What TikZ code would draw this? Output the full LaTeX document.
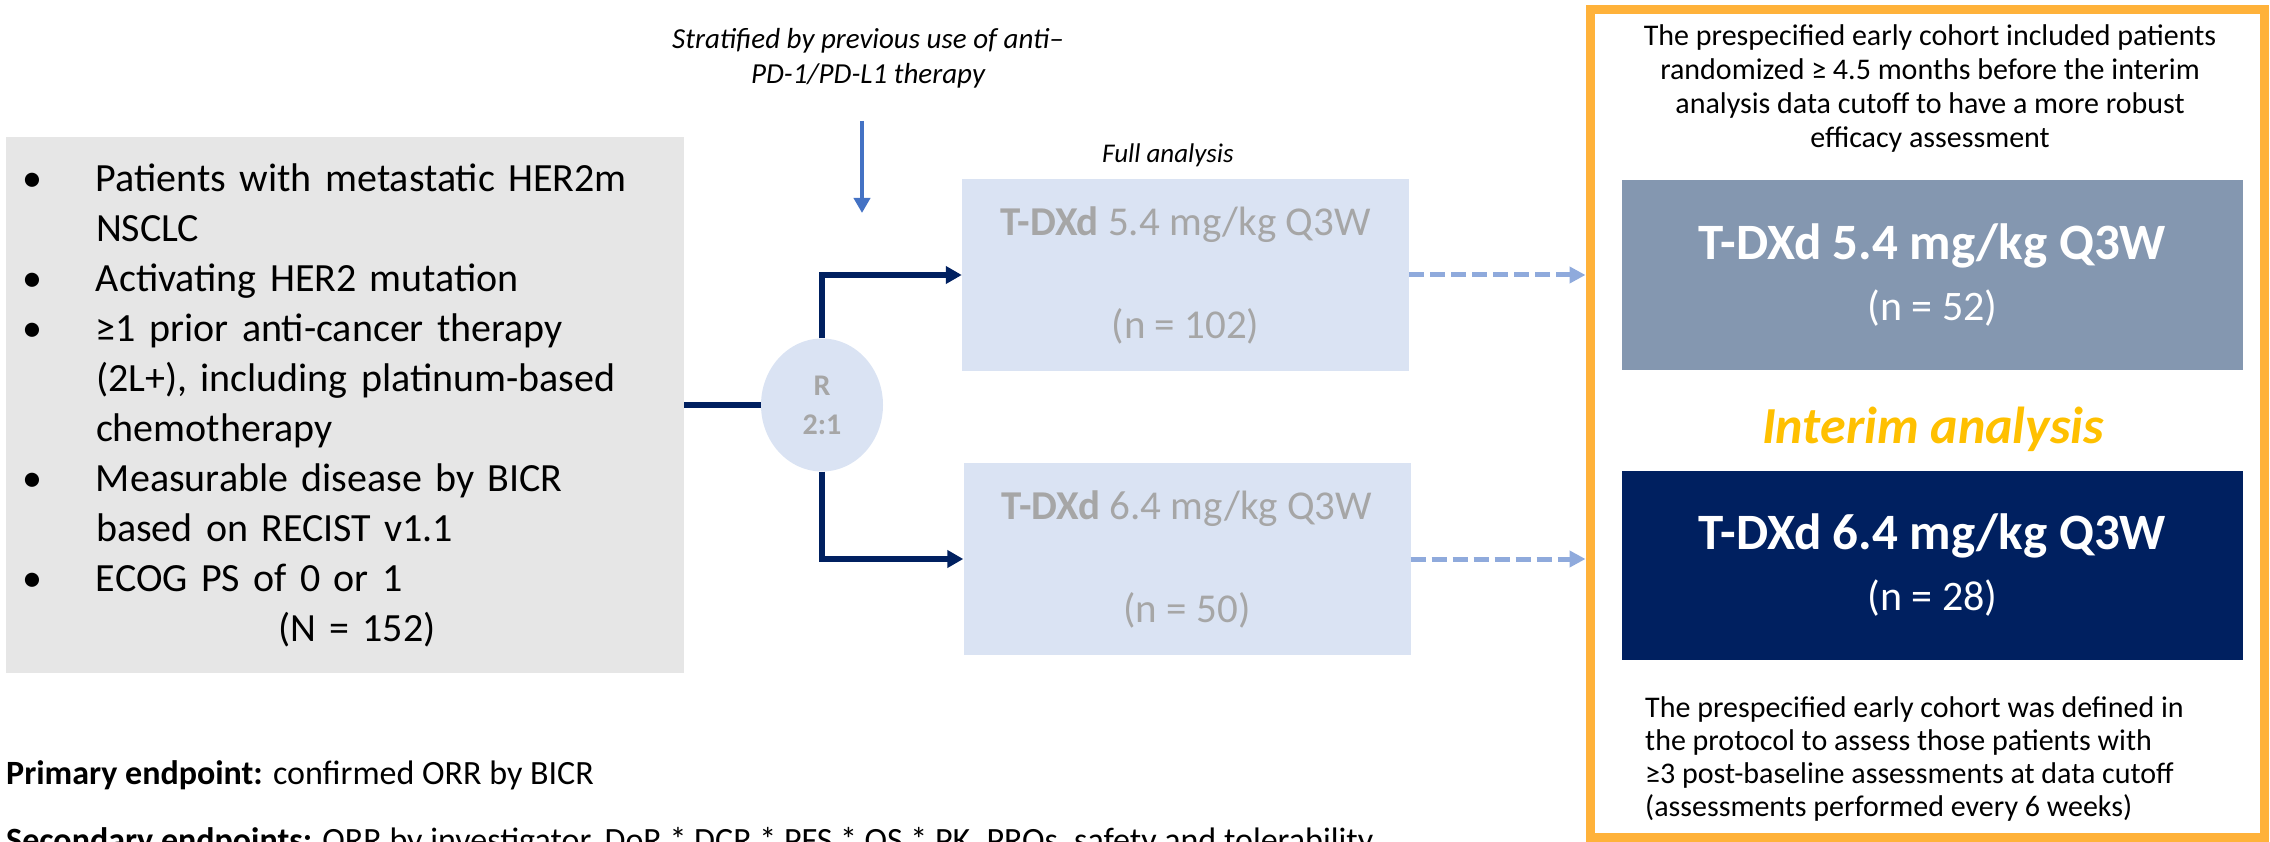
\documentclass[tikz,border=0pt]{standalone}
\usepackage{fontspec}
\setmainfont{Carlito}
\usetikzlibrary{positioning,shapes.geometric,arrows.meta}
\definecolor{navy}{HTML}{002060}
\definecolor{paleblue}{HTML}{DAE3F3}
\definecolor{midblue}{HTML}{4472C4}
\definecolor{dashblue}{HTML}{8FAADC}
\definecolor{slateblue}{HTML}{8497B0}
\definecolor{boxgray}{HTML}{E6E6E6}
\definecolor{txtgray}{HTML}{A6A6A6}
\definecolor{framegold}{HTML}{FFB23A}
\definecolor{interimgold}{HTML}{FFC000}
\newcommand\blt{\makebox[74pt][l]{\textbullet}}
\newcommand\hng{\hspace*{74pt}}
\begin{document}
\begin{tikzpicture}[x=1pt,y=-1pt,
 armbox/.style={fill=paleblue,minimum width=447pt,minimum height=192pt,
  inner sep=0pt,align=center,text=txtgray,font=\fontsize{41}{103}\selectfont},
 cohbox/.style={minimum width=621pt,minimum height=189pt,inner sep=0pt,
  align=center,text=white,font=\fontsize{42}{61}\selectfont},
 navyarrow/.style={navy,line width=6pt,-{Triangle[length=16pt,width=17pt]}},
 dasharrow/.style={dashblue,line width=5pt,dash pattern=on 15pt off 6pt,
  -{Triangle[length=16pt,width=16pt]}},
 note/.style={inner sep=0pt,font=\fontsize{30}{34}\selectfont}]
\useasboundingbox (0,0) rectangle (2270,842);
\clip (0,0) rectangle (2270,842);

% population and randomisation
\node[fill=boxgray,text width=646pt,inner xsep=16pt,inner ysep=0pt,
 minimum height=536pt,align=left,font=\fontsize{40}{50}\selectfont] (pop) at (345,405)
 {\blt Patients with metastatic HER2m\\
  \hng NSCLC\\
  \blt Activating HER2 mutation\\
  \blt ≥1 prior anti-cancer therapy\\
  \hng (2L+), including platinum-based\\
  \hng chemotherapy\\
  \blt Measurable disease by BICR\\
  \hng based on RECIST v1.1\\
  \blt ECOG PS of 0 or 1\\
  \hspace*{256pt}(N = 152)};
\node[ellipse,fill=paleblue,minimum width=122pt,minimum height=133pt,inner sep=0pt,
 align=center,text=txtgray,font=\fontsize{30}{39}\selectfont\bfseries] (rand) at (822,405) {R\\2:1};

\node[font=\fontsize{29}{35}\selectfont\itshape,align=center,inner sep=0pt] (strat) at (868,58)
 {Stratified by previous use of anti--\\PD-1/PD-L1 therapy};
\coordinate (dropTop) at (862,121);
\coordinate (dropTip) at (862,213);
\node[font=\fontsize{27}{33}\selectfont\itshape,inner sep=0pt] (full) at (1168,155) {Full analysis};

\node[armbox] (armA) at (1185.5,275) {\textbf{T-DXd} 5.4 mg/kg Q3W\\(n = 102)};
\node[armbox] (armB) at (1187,559) {\textbf{T-DXd} 6.4 mg/kg Q3W\\(n = 50)};

% interim analysis panel
\node[draw=framegold,line width=9pt,minimum width=674pt,minimum height=827pt,inner sep=0pt] (frame) at (1927,423.5) {};
\node[note,align=center,anchor=north] (earlyNote) at (1930,24)
 {The prespecified early cohort included patients\\
  randomized ≥ 4.5 months before the interim\\
  analysis data cutoff to have a more robust\\
  efficacy assessment};
\node[cohbox,fill=slateblue] (cohA) at (1932.5,275)
 {{\fontsize{51}{61}\selectfont\bfseries T-DXd 5.4 mg/kg Q3W}\\(n = 52)};
\node[font=\fontsize{52}{62}\selectfont\bfseries\itshape,text=interimgold,inner sep=0pt] (interim) at (1933,429) {Interim analysis};
\node[cohbox,fill=navy] (cohB) at (1932.5,565)
 {{\fontsize{51}{61}\selectfont\bfseries T-DXd 6.4 mg/kg Q3W}\\(n = 28)};
\node[note,align=left,anchor=north west,font=\fontsize{30}{33}\selectfont] (cohortNote) at (1645,696)
 {The prespecified early cohort was defined in\\
  the protocol to assess those patients with\\
  ≥3 post-baseline assessments at data cutoff\\
  (assessments performed every 6 weeks)};

% endpoints
\node[anchor=base west,inner sep=0pt,font=\fontsize{34}{40}\selectfont] (primary) at (6,784)
 {\textbf{Primary endpoint:} confirmed ORR by BICR};
\node[anchor=base west,inner sep=0pt,font=\fontsize{34}{40}\selectfont] (secondary) at (6,851)
 {\textbf{Secondary endpoints:} ORR by investigator, DoR * DCR * PFS * OS * PK, PROs, safety and tolerability};

\draw[navy,line width=6pt] (pop) -- (rand);
\draw[navyarrow] (rand.north) |- (armA.west);
\draw[navyarrow] (rand.south) |- (armB.west);
\draw[midblue,line width=4pt,-{Triangle[length=15pt,width=16pt]}] (dropTop) -- (dropTip);
\draw[dasharrow] (armA.east) -- (armA.east -| frame.west);
\draw[dasharrow] (armB.east) -- (armB.east -| frame.west);
\end{tikzpicture}
\end{document}
